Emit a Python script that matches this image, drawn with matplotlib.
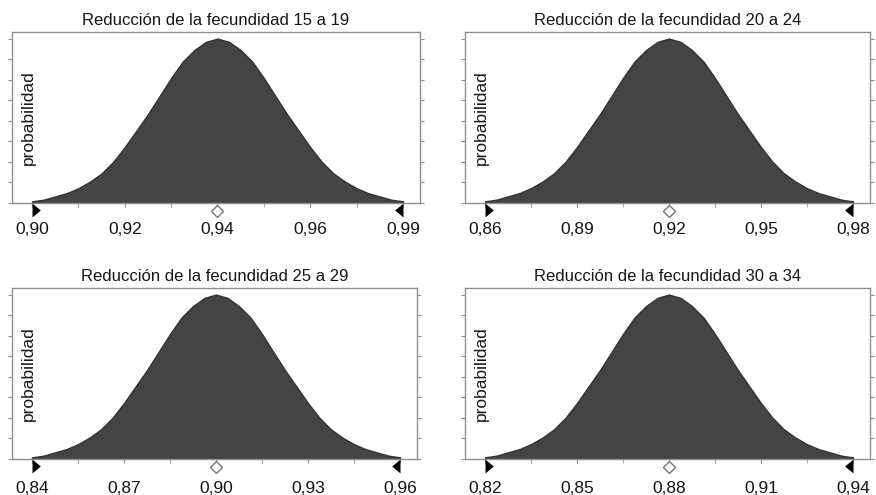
import numpy as np
import matplotlib
matplotlib.use("Agg")
import matplotlib.pyplot as plt
from matplotlib.path import Path
from matplotlib.transforms import blended_transform_factory

plt.rcParams['font.family'] = ['Liberation Sans', 'DejaVu Sans']

# ---- data ----
titles = ["Reducción de la fecundidad 15 a 19",
          "Reducción de la fecundidad 20 a 24",
          "Reducción de la fecundidad 25 a 29",
          "Reducción de la fecundidad 30 a 34"]

range_lo = [0.90, 0.86, 0.84, 0.82]
range_hi = [0.98, 0.98, 0.96, 0.94]
means = [0.94, 0.92, 0.90, 0.88]

tick_values = [[0.90, 0.92, 0.94, 0.96, 0.98],
               [0.86, 0.89, 0.92, 0.95, 0.98],
               [0.84, 0.87, 0.90, 0.93, 0.96],
               [0.82, 0.85, 0.88, 0.91, 0.94]]
tick_labels = [["0,90", "0,92", "0,94", "0,96", "0,99"],
               ["0,86", "0,89", "0,92", "0,95", "0,98"],
               ["0,84", "0,87", "0,90", "0,93", "0,96"],
               ["0,82", "0,85", "0,88", "0,91", "0,94"]]

# relative probability heights read at 33 evenly spaced points across each range
heights_15_19 = [0.01, 0.02, 0.04, 0.06, 0.09, 0.13, 0.18, 0.25, 0.34, 0.44, 0.54,
                 0.65, 0.76, 0.86, 0.93, 0.98, 1.00, 0.98, 0.93, 0.86, 0.76, 0.65,
                 0.54, 0.44, 0.34, 0.25, 0.18, 0.13, 0.09, 0.06, 0.04, 0.02, 0.01]
heights_20_24 = [0.01, 0.02, 0.04, 0.06, 0.09, 0.13, 0.18, 0.25, 0.34, 0.44, 0.54,
                 0.65, 0.76, 0.86, 0.93, 0.98, 1.00, 0.98, 0.93, 0.86, 0.76, 0.65,
                 0.54, 0.44, 0.34, 0.25, 0.18, 0.13, 0.09, 0.06, 0.04, 0.02, 0.01]
heights_25_29 = [0.01, 0.02, 0.04, 0.06, 0.09, 0.13, 0.18, 0.25, 0.34, 0.44, 0.54,
                 0.65, 0.76, 0.86, 0.93, 0.98, 1.00, 0.98, 0.93, 0.86, 0.76, 0.65,
                 0.54, 0.44, 0.34, 0.25, 0.18, 0.13, 0.09, 0.06, 0.04, 0.02, 0.01]
heights_30_34 = [0.01, 0.02, 0.04, 0.06, 0.09, 0.13, 0.18, 0.25, 0.34, 0.44, 0.54,
                 0.65, 0.76, 0.86, 0.93, 0.98, 1.00, 0.98, 0.93, 0.86, 0.76, 0.65,
                 0.54, 0.44, 0.34, 0.25, 0.18, 0.13, 0.09, 0.06, 0.04, 0.02, 0.01]
all_heights = [heights_15_19, heights_20_24, heights_25_29, heights_30_34]

# ---- layout ----
W, H = 876, 495
fig = plt.figure(figsize=(W / 100, H / 100), dpi=100)

# (left, top, right, bottom) in pixels
boxes = [(12, 32, 420, 203), (465, 32, 870, 203),
         (12, 288, 417, 459), (465, 288, 870, 459)]
label_pads = [11, 11, 12.5, 12.5]

fill_color = "#444444"
frame_color = "#8f8f8f"
text_color = "#15151c"

# range-marker triangles with the vertical edge on the range end
left_marker = Path([(0.0, -1.0), (1.2, 0.0), (0.0, 1.0), (0.0, -1.0)],
                   [Path.MOVETO, Path.LINETO, Path.LINETO, Path.CLOSEPOLY])
right_marker = Path([(0.0, -1.0), (-1.2, 0.0), (0.0, 1.0), (0.0, -1.0)],
                    [Path.MOVETO, Path.LINETO, Path.LINETO, Path.CLOSEPOLY])

for i in range(4):
    l, t, r, b = boxes[i]
    ax = fig.add_axes([l / W, 1 - b / H, (r - l) / W, (b - t) / H])
    lo, hi = range_lo[i], range_hi[i]
    span = hi - lo
    x = np.linspace(lo, hi, len(all_heights[i]))
    y = np.array(all_heights[i])
    ax.fill_between(x, 0, y, color=fill_color, linewidth=1.0, edgecolor="#333333",
                    joinstyle="round")
    ax.set_xlim(lo - 0.054 * span, hi + 0.046 * span)
    ax.set_ylim(0, 1.04)

    # ticks
    ax.set_xticks(tick_values[i])
    ax.set_xticklabels(tick_labels[i], fontsize=12.5, color=text_color)
    tv = tick_values[i]
    minors = [(tv[k] + tv[k + 1]) / 2 for k in range(len(tv) - 1)]
    ax.set_xticks(minors, minor=True)
    ax.tick_params(axis='x', which='both', direction='out', length=3,
                   color=frame_color, pad=label_pads[i])
    ax.set_yticks(np.arange(0, 1.01, 0.125))
    ax.tick_params(axis='y', left=True, right=True, direction='out', length=3,
                   color=frame_color, labelleft=False, labelright=False)

    for sp in ax.spines.values():
        sp.set_color(frame_color)
        sp.set_linewidth(1.0)

    ax.set_title(titles[i], fontsize=12, color=text_color, pad=5)
    ax.text(0.04, 0.5, "probabilidad", rotation=90, transform=ax.transAxes,
            ha="center", va="center", fontsize=12.5, color=text_color)

    # range markers and mean marker under the axis
    trans = blended_transform_factory(ax.transData, ax.transAxes)
    ax.plot([lo], [-0.042], marker=left_marker, markersize=12, color="black",
            transform=trans, clip_on=False, linestyle="none",
            markeredgewidth=0)
    ax.plot([hi], [-0.042], marker=right_marker, markersize=12, color="black",
            transform=trans, clip_on=False, linestyle="none",
            markeredgewidth=0)
    ax.plot([means[i]], [-0.045], marker="D", markersize=6, markerfacecolor="white",
            markeredgecolor="#777777", markeredgewidth=1.0, transform=trans,
            clip_on=False, linestyle="none")

fig.savefig("out.png", dpi=100)
